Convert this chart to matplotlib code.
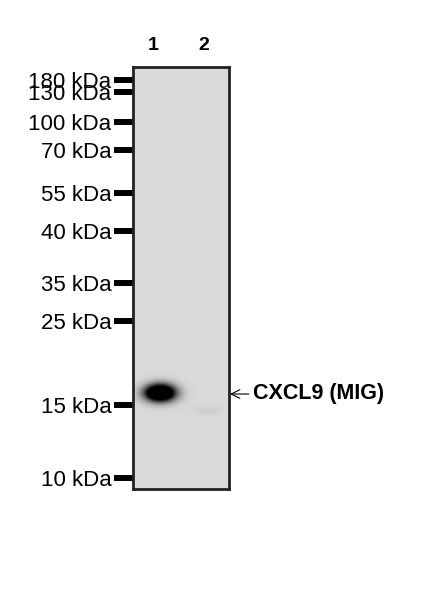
import numpy as np
import matplotlib
matplotlib.use('Agg')
import matplotlib.pyplot as plt

# Marker ladder (label, row in pixels on the blot)
marker_labels = ['180 kDa', '130 kDa', '100 kDa', '70 kDa', '55 kDa',
                 '40 kDa', '35 kDa', '25 kDa', '15 kDa', '10 kDa']
marker_rows = [80, 92, 122, 150, 193, 231, 283, 321, 405, 478]

# Lanes
lane_labels = ['1', '2']
lane_label_x = [153, 204]

# Bands: lane centre x, row, spread x, spread y, strength
band_x = [160, 208]
band_y = [393, 411]
band_w = [15, 15]
band_h = [8.5, 4.5]
band_strength = [2.0, 0.06]

target_label = 'CXCL9 (MIG)'
target_row = 394

# blot frame in pixel coords
X0, X1, Y0, Y1 = 133, 229, 67, 489
BG = 0.855

plt.rcParams['font.family'] = ['Liberation Sans', 'DejaVu Sans']

fig = plt.figure(figsize=(4.47, 6.0), dpi=100)
ax = fig.add_axes([X0 / 447, 1 - Y1 / 600, (X1 - X0) / 447, (Y1 - Y0) / 600])

# membrane image
xs = np.linspace(X0, X1, 200)
ys = np.linspace(Y0, Y1, 800)
gx, gy = np.meshgrid(xs, ys)
dark = np.zeros_like(gx)
for bx, by, bw, bh, s in zip(band_x, band_y, band_w, band_h, band_strength):
    r2 = ((gx - bx) / bw) ** 2 + ((gy - by) / bh) ** 2
    dark += s * np.exp(-r2)
img = BG * (1 - np.clip(dark, 0, 1))
ax.imshow(img, cmap='gray', vmin=0, vmax=1, extent=[X0, X1, Y1, Y0],
          aspect='auto', interpolation='bilinear')
ax.set_xlim(X0, X1)
ax.set_ylim(Y1, Y0)

for sp in ax.spines.values():
    sp.set_color('#222222')
    sp.set_linewidth(2)

# ladder as y ticks
ax.set_yticks(marker_rows)
ax.set_yticklabels(marker_labels, fontsize=16)
ax.tick_params(axis='y', length=13.5, width=4.3, pad=2, color='black')

# lane numbers on top
ax.xaxis.tick_top()
ax.set_xticks(lane_label_x)
ax.set_xticklabels(lane_labels, fontsize=14, fontweight='bold')
ax.tick_params(axis='x', length=0, pad=9)

ax.annotate(target_label, xy=(X1 + 1, target_row), xytext=(X1 + 24, target_row),
            fontsize=15.5, fontweight='bold', va='center', ha='left',
            annotation_clip=False,
            arrowprops=dict(arrowstyle='->', lw=0.8, color='black',
                            shrinkA=1, shrinkB=0))

fig.savefig('out.png', dpi=100)
